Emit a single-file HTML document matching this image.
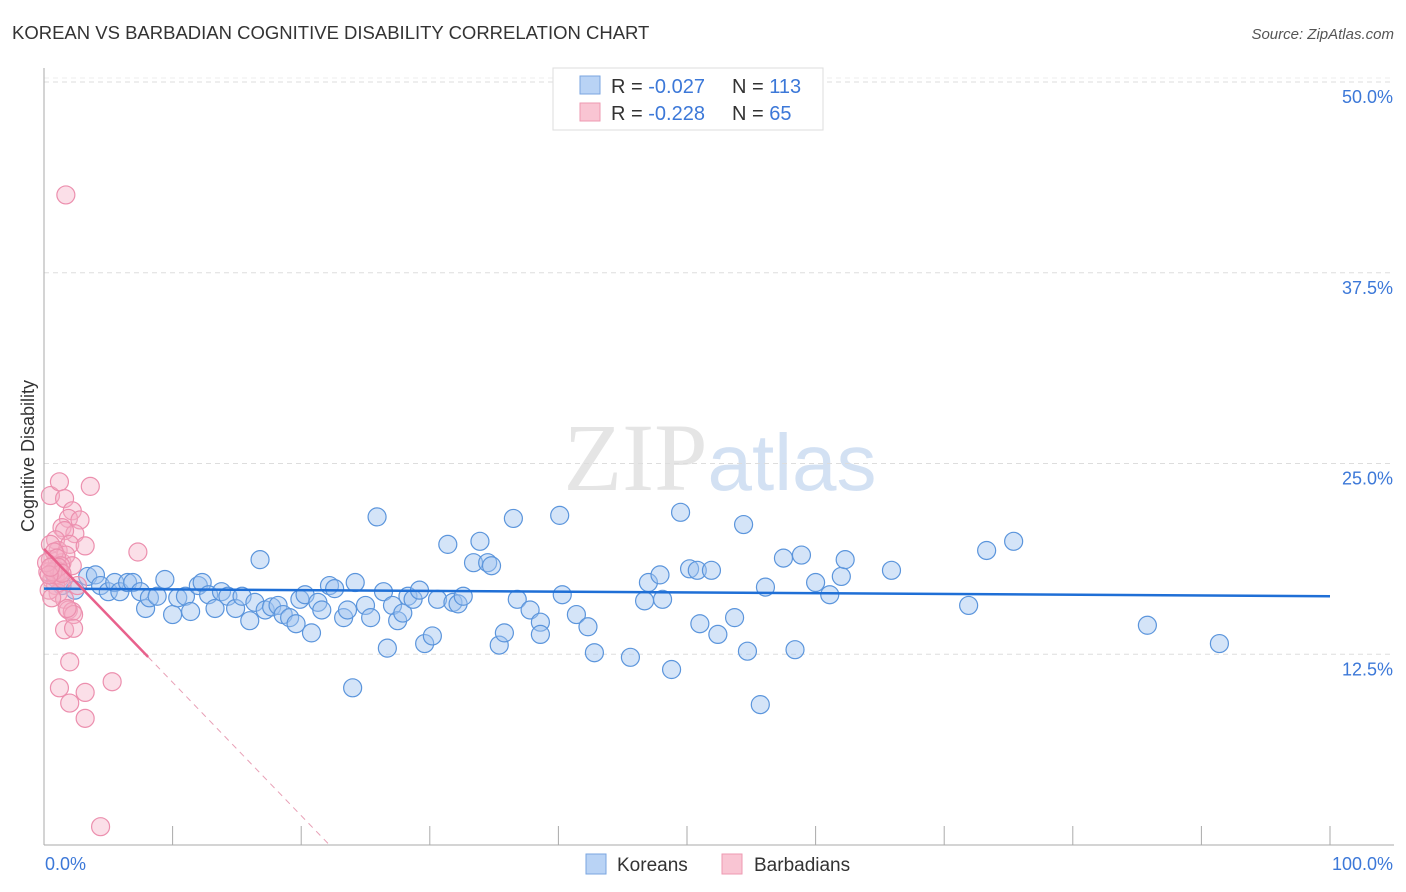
<!DOCTYPE html>
<html><head><meta charset="utf-8"><style>
body{margin:0;background:#fff;font-family:"Liberation Sans",sans-serif;}
svg{display:block}
</style></head><body>
<svg id="chart" width="1406" height="892" xmlns="http://www.w3.org/2000/svg">
<text x="12" y="39" font-size="18.5" fill="#333" font-family="Liberation Sans, sans-serif">KOREAN VS BARBADIAN COGNITIVE DISABILITY CORRELATION CHART</text>
<text x="1394" y="39" font-size="15" fill="#555" text-anchor="end" font-style="italic">Source: ZipAtlas.com</text>
<text x="720" y="490" font-size="96" text-anchor="middle" fill="#ccc" opacity="0.5" font-family="Liberation Serif, serif">ZIP<tspan fill="#a8c4e8" font-family="Liberation Sans, sans-serif" font-size="80">atlas</tspan></text>
<g id="grid"></g>
<g id="axes"></g>
<g id="marks"></g>
<text transform="translate(34,456) rotate(-90)" font-size="18" fill="#333" text-anchor="middle">Cognitive Disability</text>
<g>
<rect x="553" y="68" width="270" height="62" fill="#fff" stroke="#ddd"/>
<rect x="580" y="76" width="20" height="18" fill="#b9d3f5" stroke="#7aa6e0"/>
<rect x="580" y="103" width="20" height="18" fill="#f9c5d3" stroke="#ee99b2"/>
<text x="611" y="93" font-size="20" fill="#333">R = <tspan fill="#3c78d8">-0.027</tspan></text>
<text x="732" y="93" font-size="20" fill="#333">N = <tspan fill="#3c78d8">113</tspan></text>
<text x="611" y="120" font-size="20" fill="#333">R = <tspan fill="#3c78d8">-0.228</tspan></text>
<text x="732" y="120" font-size="20" fill="#333">N = <tspan fill="#3c78d8"> 65</tspan></text>
</g>
<g>
<rect x="586" y="854" width="20" height="20" fill="#b9d3f5" stroke="#7aa6e0"/>
<text x="617" y="871" font-size="19" fill="#333">Koreans</text>
<rect x="722" y="854" width="20" height="20" fill="#f9c5d3" stroke="#ee99b2"/>
<text x="754" y="871" font-size="19" fill="#333">Barbadians</text>
</g>
</svg>
<script>
const koreanX=[0.9,1.4,2.4,3.4,4.0,4.4,5.0,5.5,5.9,6.5,6.9,7.5,7.9,8.2,8.8,9.4,10.0,10.4,11.0,11.4,12.0,12.3,12.8,13.3,13.8,14.3,14.9,15.4,16.0,16.4,16.8,17.2,17.7,18.2,18.6,19.1,19.6,19.9,20.3,20.8,21.3,21.6,22.2,22.6,23.3,23.6,24.0,24.2,25.0,25.4,25.9,26.4,26.7,27.1,27.5,27.9,28.3,28.7,29.2,29.6,30.2,30.6,31.4,31.8,32.2,32.6,33.4,33.9,34.5,34.8,35.4,35.8,36.5,36.8,37.8,38.6,38.6,40.1,40.3,41.4,42.3,42.8,45.6,46.7,47.0,47.9,48.1,48.8,49.5,50.2,50.8,51.0,51.9,52.4,53.7,54.4,54.7,55.7,56.1,57.5,58.4,58.9,60.0,61.1,62.0,62.3,65.9,71.9,73.3,75.4,85.8,91.4];
const koreanY=[17.5,17.0,16.7,17.6,17.7,17.0,16.6,17.2,16.6,17.2,17.2,16.6,15.5,16.2,16.3,17.4,15.1,16.2,16.3,15.3,17.0,17.2,16.4,15.5,16.6,16.3,15.5,16.3,14.7,15.9,18.7,15.4,15.6,15.7,15.1,14.9,14.5,16.1,16.4,13.9,15.9,15.4,17.0,16.8,14.9,15.4,10.3,17.2,15.7,14.9,21.5,16.6,12.9,15.7,14.7,15.2,16.3,16.1,16.7,13.2,13.7,16.1,19.7,15.9,15.8,16.3,18.5,19.9,18.5,18.3,13.1,13.9,21.4,16.1,15.4,14.6,13.8,21.6,16.4,15.1,14.3,12.6,12.3,16.0,17.2,17.7,16.1,11.5,21.8,18.1,18.0,14.5,18.0,13.8,14.9,21.0,12.7,9.2,16.9,18.8,12.8,19.0,17.2,16.4,17.6,18.7,18.0,15.7,19.3,19.9,14.4,13.2];
const barbX=[0.5,1.2,1.6,3.6,2.2,1.9,2.8,1.4,2.4,1.6,0.9,1.1,2.0,3.2,0.5,0.7,0.9,1.1,1.2,0.6,0.9,0.3,1.4,1.7,2.2,1.1,1.6,1.9,2.2,2.3,1.6,2.3,2.0,1.2,3.2,2.0,3.2,7.3,5.3,1.7,4.4,0.5,0.8,1.0,1.3,0.4,0.6,1.8,2.6,0.9,1.2,1.5,1.1,0.7,1.4,0.2,0.4,0.5];
const barbY=[22.9,23.8,22.7,23.5,21.9,21.4,21.3,20.8,20.4,20.6,20.0,19.3,19.7,19.6,18.7,18.3,18.0,17.7,17.5,17.4,17.0,17.9,18.5,19.0,18.3,16.5,16.1,15.4,15.3,15.1,14.1,14.2,12.0,10.3,10.0,9.3,8.3,19.2,10.7,42.6,1.2,19.7,19.2,18.8,18.3,16.7,16.2,15.5,17.0,17.7,17.9,17.4,18.2,17.9,17.8,18.5,17.7,18.2];
const yTicks=[12.5,25.0,37.5,50.0];
const xTickVals=[0,10,20,30,40,50,60,70,80,90,100];
const koreanTrend=[16.8,16.3];
const barbTrend=[19.4,0];
const barbSolidEnd=8.1;

const NS="http://www.w3.org/2000/svg";
const X0=44,X1=1330,Y0=845,PPY=15.26;
const xs=v=>X0+(X1-X0)*v/100;
const ys=v=>Y0-v*PPY;
function mk(tag,attrs,parent){const e=document.createElementNS(NS,tag);for(const k in attrs)e.setAttribute(k,attrs[k]);parent.appendChild(e);return e;}
const gridG=document.getElementById('grid'),axesG=document.getElementById('axes'),marksG=document.getElementById('marks');
yTicks.forEach(t=>{
  const l=mk('line',{x1:X0,x2:1394,y1:ys(t),y2:ys(t),stroke:'#ddd','stroke-dasharray':'5,4'},gridG);
  
  
  const tx=mk('text',{x:1393,y:ys(t)+21,'font-size':18,fill:'#3c78d8','text-anchor':'end'},axesG);
  tx.textContent=t.toFixed(1)+'%';
  
  
});
const topLine=mk('line',{x1:X0,x2:1394,y1:78,y2:78,stroke:'#eee','stroke-dasharray':'5,4'},gridG);


const ya=mk('line',{x1:X0,x2:X0,y1:68,y2:Y0,stroke:'#aaa'},axesG);


const xa=mk('line',{x1:X0,x2:1394,y1:Y0,y2:Y0,stroke:'#aaa'},axesG);


xTickVals.forEach(t=>{
  const l=mk('line',{x1:xs(t),x2:xs(t),y1:826,y2:Y0,stroke:'#aaa'},axesG);
  
  
});
const xl0=mk('text',{x:45,y:870,'font-size':18,fill:'#3c78d8'},axesG);xl0.textContent='0.0%';


const xl1=mk('text',{x:1393,y:870,'font-size':18,fill:'#3c78d8','text-anchor':'end'},axesG);xl1.textContent='100.0%';


koreanX.forEach((v,i)=>{
  const c=mk('circle',{cx:xs(v),cy:ys(koreanY[i]),r:9,fill:'rgba(160,196,240,0.45)',stroke:'#5b95dc','stroke-width':1.2},marksG);
  
  
});
barbX.forEach((v,i)=>{
  const c=mk('circle',{cx:xs(v),cy:ys(barbY[i]),r:9,fill:'rgba(246,176,198,0.4)',stroke:'#ec8fae','stroke-width':1.2},marksG);
  
  
});
const kt=mk('line',{x1:xs(0),x2:xs(100),y1:ys(koreanTrend[0]),y2:ys(koreanTrend[1]),stroke:'#1f6fd6','stroke-width':2.5},marksG);


const xEnd=22.2;
const by=x=>barbTrend[0]+(barbTrend[1]-barbTrend[0])*x/xEnd;
const bt=mk('line',{x1:xs(0),x2:xs(barbSolidEnd),y1:ys(barbTrend[0]),y2:ys(by(barbSolidEnd)),stroke:'#e8618c','stroke-width':2.5},marksG);


const bd=mk('line',{x1:xs(barbSolidEnd),x2:xs(xEnd),y1:ys(by(barbSolidEnd)),y2:ys(barbTrend[1]),stroke:'#e8a0b6','stroke-width':1,'stroke-dasharray':'6,5'},marksG);


</script>
</body></html>
